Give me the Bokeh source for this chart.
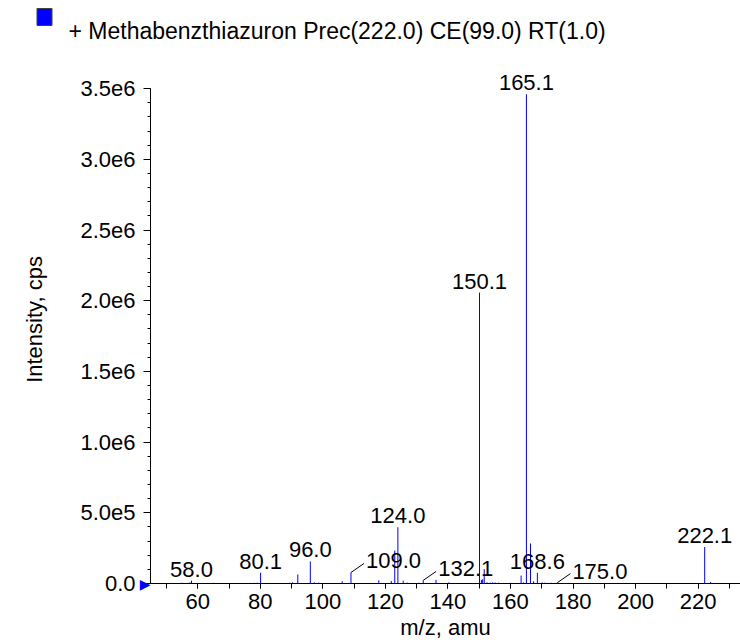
from bokeh.plotting import figure
from bokeh.layouts import column
from bokeh.models import ColumnDataSource, FixedTicker, LabelSet, Range1d, LinearAxis
from bokeh.core.properties import value
from bokeh.embed import file_html
from bokeh.resources import INLINE

# ---- data ----
mz = [55.0, 57.5, 58.0, 65.1, 70.2, 77.0, 78.0, 79.0, 80.1, 89.4, 90.3, 92.0,
      96.0, 97.3, 98.7, 106.2, 109.0, 117.9, 121.9, 123.0, 124.0, 125.7, 127.0,
      130.7, 132.1, 136.2, 140.3, 150.1, 150.7, 151.1, 151.6, 152.5, 153.5,
      154.3, 155.1, 156.2, 160.0, 163.4, 164.2, 165.1, 166.4, 167.4, 168.6,
      170.1, 171.0, 172.0, 173.0, 174.0, 175.0, 222.1, 224.0]
intensity = [5e3, 8e3, 2.0e4, 5e3, 4e3, 4e3, 5e3, 6e3, 7.6e4, 5e3, 8e3, 6.4e4,
             1.56e5, 8e3, 6e3, 1.6e4, 7.8e4, 2.2e4, 1.8e4, 2.33e5, 3.98e5, 2.0e4, 6e3,
             5e3, 2.2e4, 2.6e4, 8e3, 2.057e6, 2.5e4, 3.0e4, 1.02e5, 8e3, 6e3,
             8e3, 7e3, 6e3, 5e3, 5.6e4, 8e3, 3.46e6, 2.83e5, 1.6e4, 7.6e4,
             8e3, 6e3, 5e3, 5e3, 4e3, 6e3, 2.58e5, 1.0e4]

label_mz = [58.0, 80.1, 96.0, 124.0, 150.1, 165.1, 168.6, 222.1]
leader_mz = [109.0, 132.1, 175.0]

x_ticks = [60, 80, 100, 120, 140, 160, 180, 200, 220]
x_minor = [50, 60, 70, 80, 90, 100, 110, 120, 130, 140, 150, 160, 170, 180, 190, 200, 210, 220, 230]
y_ticks = [0, 500000, 1000000, 1500000, 2000000, 2500000, 3000000, 3500000]
y_tick_labels = ["0.0", "5.0e5", "1.0e6", "1.5e6", "2.0e6", "2.5e6", "3.0e6", "3.5e6"]
y_minor = [i * 100000 for i in range(36)]

title_text = "+ Methabenzthiazuron Prec(222.0) CE(99.0) RT(1.0)"
x_label = "m/z, amu"
y_label = "Intensity, cps"

# ---- layout constants ----
W = 740
HT = 55                       # header strip height (swatch + title)
H = 642 - HT                  # main plot height
BL, BR, BT, BB = 150, 0, 0, 59
FONT = "Liberation Sans"
FS = "22px"
PXX = 3.1275                  # px per m/z unit
PXY = 141.4e-6                # px per intensity unit
X0 = 44.9

frame_w = W - BL - BR
frame_h = H - BT - BB
X_END = X0 + frame_w / PXX
Y_END = frame_h / PXY

# ---- header (legend swatch + title) ----
hdr = figure(width=W, height=HT, output_backend="svg", toolbar_location=None,
             x_range=Range1d(0, W), y_range=Range1d(HT, 0),
             x_axis_type=None, y_axis_type=None,
             min_border_left=0, min_border_right=0, min_border_top=0, min_border_bottom=0)
hdr.grid.visible = False
hdr.outline_line_color = None
hdr.frame_align = False
hdr.quad(left=[36.5], right=[51.5], top=[8], bottom=[25], fill_color="blue",
         line_color="#404040", line_width=1)
hdr.text(x=[68], y=[30], text=[title_text], text_font=value(FONT), text_font_size="23px",
         text_color="black", text_align="left", text_baseline="alphabetic")

# ---- main plot ----
p = figure(width=W, height=H, output_backend="svg", toolbar_location=None,
           x_range=Range1d(X0, X_END), y_range=Range1d(0, Y_END), y_axis_location=None,
           min_border_left=BL, min_border_right=BR, min_border_top=BT, min_border_bottom=BB)
p.frame_align = False
p.grid.visible = False
p.outline_line_color = None
p.background_fill_color = "white"

# x axis
xa = p.xaxis[0]
xa.ticker = FixedTicker(ticks=x_ticks, minor_ticks=x_minor)
xa.axis_line_color = "black"
xa.major_tick_line_color = "black"
xa.minor_tick_line_color = "black"
xa.major_tick_in = 0
xa.minor_tick_in = 0
xa.major_tick_out = 5
xa.minor_tick_out = 5
xa.major_label_standoff = 5
xa.major_label_text_font = FONT
xa.major_label_text_font_size = FS
xa.major_label_text_color = "black"
xa.axis_label = x_label
xa.axis_label_standoff = 3
xa.axis_label_text_font = FONT
xa.axis_label_text_font_size = FS
xa.axis_label_text_font_style = "normal"
xa.axis_label_text_color = "black"

# inner y axis: line, ticks and the zero-level marker
tri_labels = {t: ("\u25B6" if t == 0 else "") for t in y_ticks}
ya_in = LinearAxis(ticker=FixedTicker(ticks=y_ticks, minor_ticks=y_minor),
                   major_label_overrides=tri_labels, bounds=(0, 3.5e6),
                   axis_line_color="black", major_tick_line_color="black",
                   minor_tick_line_color="black", major_tick_in=0, minor_tick_in=0,
                   major_tick_out=7, minor_tick_out=3, major_label_standoff=-7,
                   major_label_text_font="DejaVu Sans", major_label_text_font_size="14px",
                   major_label_text_color="blue")
# outer y axis: tick labels and axis title
ya_out = LinearAxis(ticker=FixedTicker(ticks=y_ticks, minor_ticks=[]),
                    major_label_overrides={t: l for t, l in zip(y_ticks, y_tick_labels)},
                    axis_line_color=None, major_tick_line_color=None,
                    minor_tick_line_color=None, major_tick_in=0, major_tick_out=0,
                    minor_tick_in=0, minor_tick_out=0, major_label_standoff=1,
                    major_label_text_font=FONT, major_label_text_font_size=FS,
                    major_label_text_color="black",
                    axis_label=y_label, axis_label_standoff=30,
                    axis_label_text_font=FONT, axis_label_text_font_size=FS,
                    axis_label_text_font_style="normal", axis_label_text_color="black")
p.add_layout(ya_in, "left")
p.add_layout(ya_out, "left")

# peaks
src = ColumnDataSource(dict(mz=mz, base=[0] * len(mz), intensity=intensity))
p.segment(x0="mz", y0="base", x1="mz", y1="intensity", source=src,
          line_color="blue", line_width=1)

def height_of(m):
    i = min(range(len(mz)), key=lambda k: abs(mz[k] - m))
    return intensity[i]

lab_src = ColumnDataSource(dict(x=label_mz, y=[height_of(m) for m in label_mz],
                                t=["%.1f" % m for m in label_mz]))
p.add_layout(LabelSet(x="x", y="y", text="t", source=lab_src, text_align="center",
                      text_baseline="alphabetic", y_offset=4,
                      text_font=value(FONT), text_font_size=FS, text_color="black"))

# leader-line labels
DX, DY = 13, 9
lh = [height_of(m) for m in leader_mz]
lead_src = ColumnDataSource(dict(x=leader_mz, y=lh,
                                 x1=[m + DX / PXX for m in leader_mz],
                                 y1=[h + DY / PXY for h in lh],
                                 t=["%.1f" % m for m in leader_mz]))
p.segment(x0="x", y0="y", x1="x1", y1="y1", source=lead_src, line_color="black", line_width=1)
p.add_layout(LabelSet(x="x", y="y", text="t", source=lead_src, text_align="left",
                      text_baseline="alphabetic", x_offset=DX + 2, y_offset=4,
                      text_font=value(FONT), text_font_size=FS, text_color="black"))

layout = column(hdr, p, spacing=0)
open("out.html", "w").write(file_html(layout, INLINE))
